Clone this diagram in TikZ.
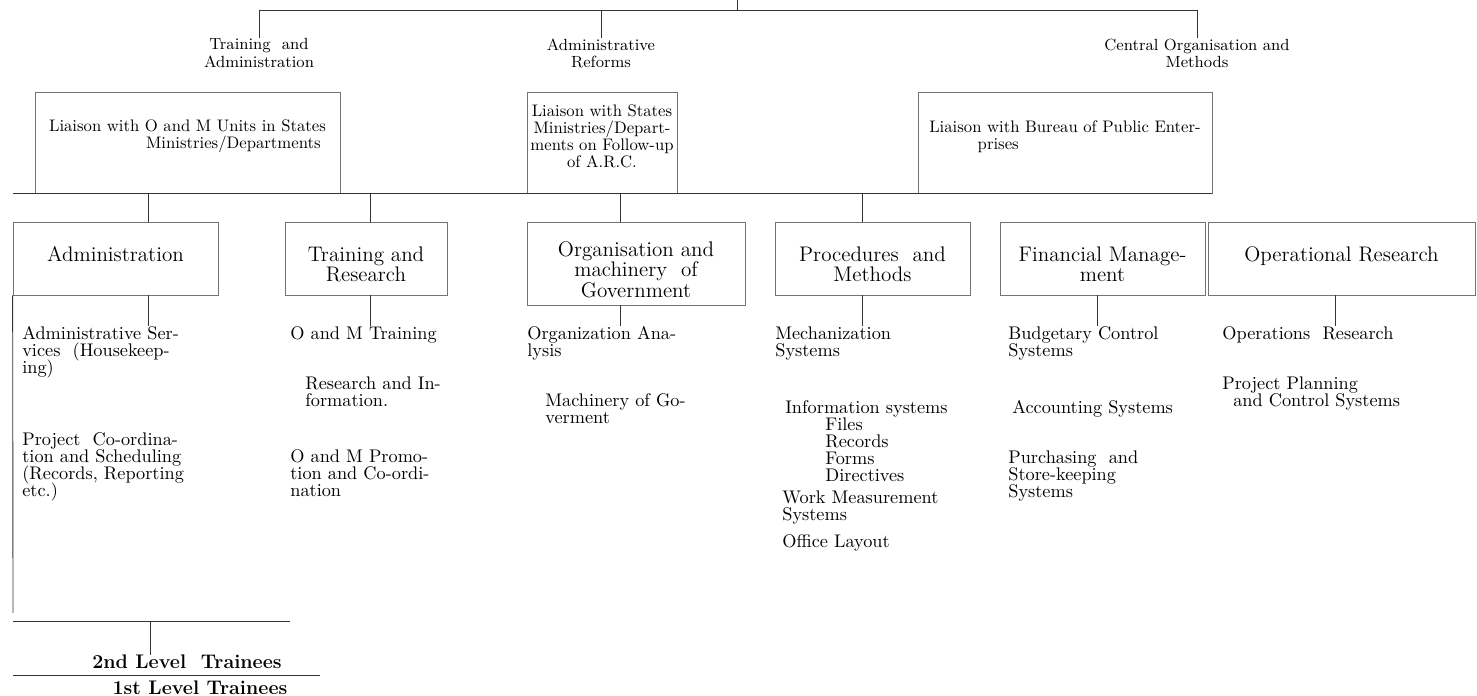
\documentclass[tikz,border=0pt]{standalone}
\usetikzlibrary{positioning, fit}
\newcommand{\headfont}{\fontsize{9.2}{9.7}\selectfont\lineskiplimit=-5pt}
\newcommand{\liafont}{\fontsize{9.5}{9.7}\selectfont\lineskiplimit=-5pt}
\newcommand{\unitfont}{\fontsize{12}{11.8}\selectfont\lineskiplimit=-5pt}
\newcommand{\itemfont}{\fontsize{10.4}{9.7}\selectfont\lineskiplimit=-5pt}
\tikzset{
  conn/.style={draw=black!80, line width=0.5pt},
  lbox/.style={draw=black!55, line width=0.4pt, inner sep=0pt, align=center, font=\liafont},
  ubox/.style={draw=black!55, line width=0.4pt, inner sep=0pt},
  utext/.style={align=center, inner sep=0pt, font=\unitfont},
  head/.style={align=center, inner sep=0pt, font=\headfont},
  item/.style={align=left, anchor=north west, inner sep=0pt, font=\itemfont}
}

\begin{document}
\begin{tikzpicture}[x=0.02cm, y=-0.02cm]
  \useasboundingbox (0,0) rectangle (1477,696);

  % Top
  \coordinate (root) at (737,0);
  \coordinate (top) at (737,10);
  \coordinate (topw) at (259,10);
  \coordinate (tope) at (1197,10);
  \node[head] (tra) at (259,53) {Training \ and\\Administration};
  \node[head] (adr) at (601,53) {Administrative\\Reforms};
  \node[head] (com) at (1197,53) {Central Organisation and\\Methods};
  \draw[conn] (root) -- (top);
  \draw[conn] (topw) -- (tope);
  \draw[conn] (topw) -- (tra.north);
  \draw[conn] (topw -| adr.north) -- (adr.north);
  \draw[conn] (tope) -- (com.north);

  % Liaison boxes
  \node[lbox, fit={(35,92) (340,193)}] (lia) {Liaison with O and M Units in States\\\hspace*{5.5em}Ministries/Departments\\[6pt]};
  \node[lbox, fit={(527,92) (677,193)}] (lis) {Liaison with States\\Ministries/Depart-\\ments on Follow-up\\of A.R.C.\\[4pt]};
  \node[lbox, fit={(918,92) (1212,193)}] (lib) {Liaison with Bureau of Public Enter-\\prises\hspace*{8em}\mbox{}\\[12pt]};

  % Bus
  \coordinate (busw) at (13,193);
  \coordinate (buse) at (1212,193);
  \draw[conn] (busw) -- (buse);

  % Units
  \node[ubox, fit={(13,222) (218,295)}] (adm) {};
  \node[ubox, fit={(285,222) (447,295)}] (trr) {};
  \node[ubox, fit={(527,222) (745,305)}] (org) {};
  \node[ubox, fit={(775,222) (970,295)}] (prm) {};
  \node[ubox, fit={(1000,222) (1205,295)}] (fin) {};
  \node[ubox, fit={(1208,222) (1475,295)}] (opr) {};
  \node[utext, below=14pt of adm.north] (admt) {Administration};
  \node[utext, below=14pt of trr.north] (trrt) {Training and\\Research};
  \node[utext, below=11pt of org.north] (orgt) {Organisation and\\machinery \ of\\Government};
  \node[utext, below=14pt of prm.north] (prmt) {Procedures \ and\\Methods};
  \node[utext, below=14pt of fin.north] (fint) {Financial Manage-\\ment};
  \node[utext, below=14pt of opr.north] (oprt) {Operational Research};

  \coordinate (k1) at (148,193);
  \coordinate (k2) at (370,193);
  \coordinate (k3) at (620,193);
  \coordinate (k4) at (862,193);
  \coordinate (k5) at (1097,193);
  \coordinate (k6) at (1335,193);
  \draw[conn] (k1) -- (k1 |- adm.north);
  \draw[conn] (k2) -- (k2 |- trr.north);
  \draw[conn] (k3) -- (k3 |- org.north);
  \draw[conn] (k4) -- (k4 |- prm.north);

  % Functions
  \node[item] (a1) at (22,326) {Administrative Ser-\\vices \ (Housekeep-\\ing)};
  \node[item] (a2) at (22,432) {Project \ Co-ordina-\\tion and Scheduling\\(Records, Reporting\\etc.)};
  \node[item] (t1) at (290,326) {O and M Training};
  \node[item] (t2) at (305,376) {Research and In-\\formation.};
  \node[item] (t3) at (290,449) {O and M Promo-\\tion and Co-ordi-\\nation};
  \node[item] (o1) at (527,326) {Organization Ana-\\lysis};
  \node[item] (o2) at (545,393) {Machinery of Go-\\verment};
  \node[item] (p1) at (775,326) {Mechanization\\Systems};
  \node[item] (p2) at (785,400) {Information systems};
  \node[item] (p3) at (825,417) {Files\\Records\\Forms\\Directives};
  \node[item] (p4) at (782,490) {Work Measurement\\Systems};
  \node[item] (p5) at (782,534) {Office Layout};
  \node[item] (f1) at (1008,326) {Budgetary Control\\Systems};
  \node[item] (f2) at (1012,400) {Accounting Systems};
  \node[item] (f3) at (1008,450) {Purchasing \ and\\Store-keeping\\Systems};
  \node[item] (r1) at (1222,326) {Operations \ Research};
  \node[item] (r2) at (1222,376) {Project Planning\\\hspace*{0.6em}and Control Systems};

  \draw[conn] (adm.south -| k1) -- (a1.north -| k1);
  \draw[conn] (trr.south -| k2) -- (t1.north -| k2);
  \draw[conn] (org.south -| k3) -- (o1.north -| k3);
  \draw[conn] (prm.south -| k4) -- (p1.north -| k4);
  \draw[conn] (fin.south -| k5) -- (f1.north -| k5);
  \draw[conn] (opr.south -| k6) -- (r1.north -| k6);

  % Trainees
  \coordinate (lb) at (13,613);
  \coordinate (tw) at (13,621);
  \coordinate (te) at (290,621);
  \coordinate (tt) at (150,621);
  \coordinate (uw) at (13,675);
  \coordinate (ue) at (320,675);
  \node[head, font=\fontsize{11.2}{12}\selectfont\bfseries] (sec) at (187,662) {2nd Level \ Trainees};
  \node[head, font=\fontsize{11.2}{12}\selectfont\bfseries] (fst) at (200,688) {1st Level Trainees};
  \draw[conn] (adm.south west) -- (lb);
  \draw[conn] (tw) -- (te);
  \draw[conn] (tt) -- (tt |- sec.north);
  \draw[conn] (uw) -- (ue);
\end{tikzpicture}
\end{document}
